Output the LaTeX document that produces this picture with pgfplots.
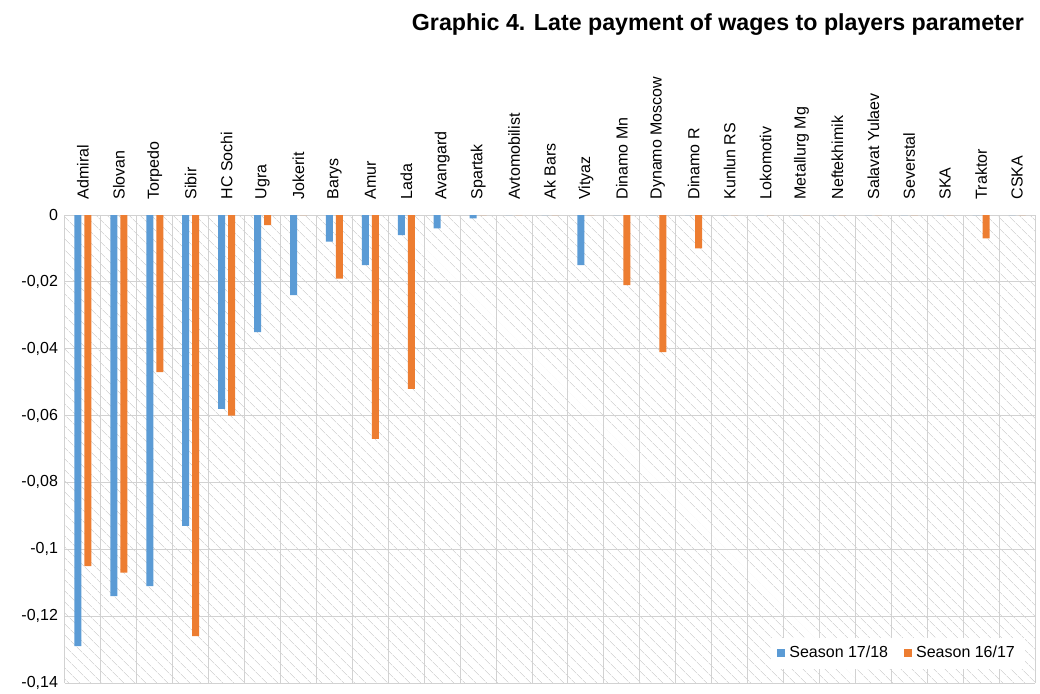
\documentclass[border=0pt]{standalone}
\usepackage{pgfplots}
\pgfplotsset{compat=1.18}
\usepackage{fontspec}
\setmainfont{Liberation Sans}
\usetikzlibrary{patterns.meta}
\definecolor{cblue}{HTML}{5B9BD5}
\definecolor{corange}{HTML}{ED7D31}
\begin{document}
\begin{tikzpicture}
\useasboundingbox (-32.5pt,-5pt) rectangle (487.5pt,341.5pt);
\begin{axis}[
  scale only axis, width=485pt, height=234pt,
  at={(0,0)}, anchor=south west,
  ybar=1.5pt, bar width=3.5pt,
  ymin=-0.14, ymax=0, ytick={-0.14,-0.12,...,0},
  xmin=-0.5, xmax=26.5, xtick={0,...,26},
  xticklabels={Admiral,Slovan,Torpedo,Sibir,HC Sochi,Ugra,Jokerit,Barys,Amur,Lada,Avangard,Spartak,Avtomobilist,Ak Bars,Vityaz,Dinamo Mn,Dynamo Moscow,Dinamo R,Kunlun RS,Lokomotiv,Metallurg Mg,Neftekhimik,Salavat Yulaev,Severstal,SKA,Traktor,CSKA},
  xticklabel pos=upper, x tick label style={rotate=90,anchor=west,font=\fontsize{8}{9}\selectfont},
  y tick label style={font=\fontsize{8}{9}\selectfont},
  /pgf/number format/assume math mode=true,
  /pgf/number format/use comma,
  yticklabel={\pgfmathprintnumber[fixed,precision=2]{\tick}},
  major x tick style={draw=none}, ytick style={draw=none},
  minor xtick={-0.5,0.5,...,26.5}, minor x tick style={draw=none},
  xminorgrids, ymajorgrids,
  grid style={gray!35, line width=0.5pt},
  axis line style={draw=none},
  axis background/.style={pattern={Lines[angle=-45,distance=4pt,line width=0.35pt]}, pattern color=gray!30},
  legend style={at={(0.99,0.03)}, anchor=south east, draw=none, fill=white, font=\fontsize{8}{9}\selectfont, legend columns=2, /tikz/every even column/.append style={column sep=6pt}},
  legend image code/.code={\fill[#1] (0pt,-2pt) rectangle (4pt,2pt);},
]
\addplot[fill=cblue, draw=none] coordinates {(0,-0.129)(1,-0.114)(2,-0.111)(3,-0.093)(4,-0.058)(5,-0.035)(6,-0.024)(7,-0.008)(8,-0.015)(9,-0.006)(10,-0.004)(11,-0.001)(12,0)(13,0)(14,-0.015)(15,0)(16,0)(17,0)(18,0)(19,0)(20,0)(21,0)(22,0)(23,0)(24,0)(25,0)(26,0)};
\addplot[fill=corange, draw=none] coordinates {(0,-0.105)(1,-0.107)(2,-0.047)(3,-0.126)(4,-0.060)(5,-0.003)(6,0)(7,-0.019)(8,-0.067)(9,-0.052)(10,0)(11,0)(12,0)(13,0)(14,0)(15,-0.021)(16,-0.041)(17,-0.010)(18,0)(19,0)(20,0)(21,0)(22,0)(23,0)(24,0)(25,-0.007)(26,0)};
\legend{Season 17/18, Season 16/17}
\end{axis}
\node[anchor=north east, font=\bfseries\fontsize{11.6}{13}\selectfont] at (483pt,338pt) {Graphic 4. Late payment of wages to players parameter};
\end{tikzpicture}
\end{document}
